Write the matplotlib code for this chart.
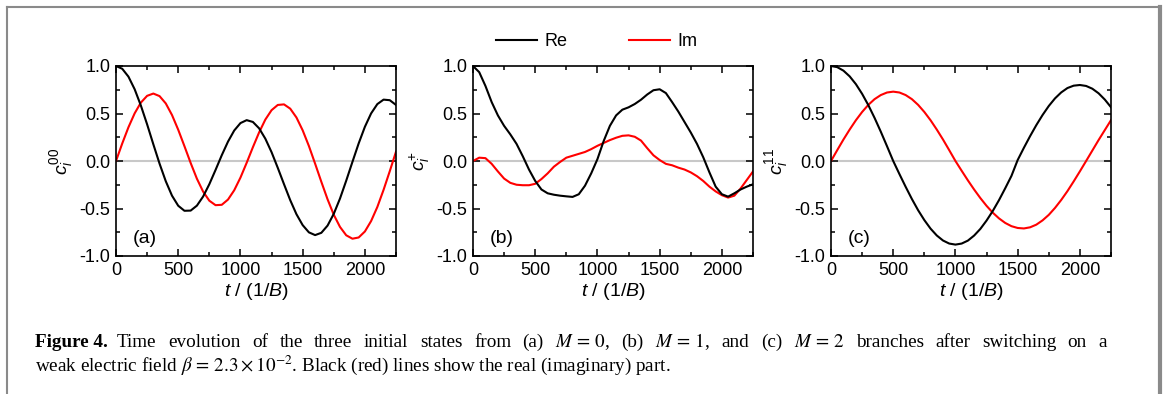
import numpy as np
import matplotlib
matplotlib.use('Agg')
import matplotlib.pyplot as plt
from matplotlib.lines import Line2D
from matplotlib.ticker import MultipleLocator

plt.rcParams['font.family'] = ['Liberation Sans', 'DejaVu Sans']
plt.rcParams['mathtext.fontset'] = 'custom'
plt.rcParams['mathtext.rm'] = 'Liberation Sans'
plt.rcParams['mathtext.it'] = 'Liberation Sans:italic'

# --- data (t in units of 1/B, step 50)
t = np.arange(0, 2251, 50)

re_a = [1.00, 0.971, 0.888, 0.755, 0.583, 0.386, 0.176, -0.028, -0.213, -0.365, -0.471, -0.524,
        -0.522, -0.470, -0.374, -0.244, -0.094, 0.061, 0.204, 0.321, 0.399, 0.430,
        0.411, 0.344, 0.235, 0.093, -0.072, -0.244, -0.412, -0.560, -0.675, -0.751, -0.780,
        -0.756, -0.680, -0.556, -0.395, -0.207, -0.009, 0.185, 0.360, 0.501, 0.599, 0.646,
        0.640, 0.590]
im_a = [0.0, 0.184, 0.355, 0.502, 0.615, 0.686, 0.710, 0.683, 0.606, 0.484, 0.329, 0.156,
        -0.021, -0.186, -0.322, -0.418, -0.465, -0.461, -0.406, -0.308, -0.175, -0.019,
        0.145, 0.301, 0.436, 0.535, 0.590, 0.596, 0.551, 0.458, 0.323, 0.158, -0.028,
        -0.219, -0.403, -0.566, -0.694, -0.782, -0.818, -0.805, -0.742, -0.632, -0.484,
        -0.304, -0.107, 0.098]

re_b = [1.00, 0.935, 0.79, 0.62, 0.48, 0.37, 0.28, 0.18, 0.05, -0.09, -0.21, -0.30, -0.34,
        -0.355, -0.365, -0.372, -0.378, -0.35, -0.26, -0.13, 0.02, 0.21, 0.37, 0.48, 0.54,
        0.565, 0.60, 0.645, 0.70, 0.745, 0.755, 0.715, 0.62, 0.52, 0.41, 0.30, 0.18, 0.04,
        -0.12, -0.27, -0.35, -0.375, -0.34, -0.30, -0.27, -0.245]
im_b = [0.0, 0.035, 0.03, -0.03, -0.11, -0.185, -0.23, -0.25, -0.255, -0.255, -0.24, -0.19,
        -0.13, -0.06, -0.01, 0.035, 0.055, 0.075, 0.095, 0.125, 0.16, 0.19, 0.22, 0.245,
        0.265, 0.27, 0.255, 0.215, 0.135, 0.06, 0.01, -0.03, -0.045, -0.07, -0.09, -0.12,
        -0.16, -0.21, -0.27, -0.32, -0.36, -0.385, -0.365, -0.29, -0.20, -0.11]

re_c = [1.0, 0.988, 0.951, 0.891, 0.809, 0.707, 0.588, 0.454, 0.309, 0.156, 0.0,
        -0.138, -0.272, -0.400, -0.518, -0.622, -0.712, -0.784, -0.837, -0.869, -0.88,
        -0.869, -0.838, -0.785, -0.715, -0.627, -0.526, -0.412, -0.287, -0.157, 0.01,
        0.139, 0.262, 0.378, 0.484, 0.579, 0.659, 0.722, 0.768, 0.793, 0.80,
        0.790, 0.761, 0.713, 0.647, 0.566]
im_c = [0.0, 0.114, 0.226, 0.331, 0.429, 0.516, 0.591, 0.651, 0.694, 0.721, 0.73,
        0.721, 0.694, 0.651, 0.591, 0.516, 0.429, 0.331, 0.226, 0.114, 0.0,
        -0.103, -0.204, -0.300, -0.390, -0.472, -0.544, -0.604, -0.652, -0.686, -0.705,
        -0.71, -0.698, -0.670, -0.625, -0.567, -0.494, -0.410, -0.317, -0.215, -0.109,
        0.0, 0.11, 0.22, 0.325, 0.43]

panels = [(re_a, im_a, r'$c_i^{00}$', '(a)'),
          (re_b, im_b, r'$c_i^{+}$', '(b)'),
          (re_c, im_c, r'$c_i^{11}$', '(c)')]

W, H = 1163, 394
fig = plt.figure(figsize=(W / 100, H / 100), dpi=100)

lefts = [116, 473, 831]
for (re, im, ylab, tag), lx in zip(panels, lefts):
    ax = fig.add_axes([lx / W, (H - 256) / H, 280 / W, 190 / H])
    ax.axhline(0, color='#c8c8c8', lw=1.5, zorder=1)
    ax.plot(t, re, color='black', lw=1.5, zorder=3)
    ax.plot(t, im, color='#ff0000', lw=1.5, zorder=2)
    ax.set_xlim(0, 2250)
    ax.set_ylim(-1, 1)
    ax.xaxis.set_major_locator(MultipleLocator(500))
    ax.xaxis.set_minor_locator(MultipleLocator(250))
    ax.yaxis.set_major_locator(MultipleLocator(0.5))
    ax.yaxis.set_minor_locator(MultipleLocator(0.25))
    ax.yaxis.set_major_formatter(plt.FuncFormatter(lambda v, p: '%.1f' % v))
    ax.tick_params(which='both', direction='in', top=True, right=True, width=1.1,
                   labelsize=13)
    ax.tick_params(which='major', length=5, pad=4)
    ax.tick_params(which='minor', length=3)
    for s in ax.spines.values():
        s.set_linewidth(1.2)
    ax.set_xlabel(r'$t$ / (1/$B$)', fontsize=14, labelpad=2)
    ax.set_ylabel(ylab, fontsize=14, labelpad=3)
    ax.text(0.06, 0.09, tag, transform=ax.transAxes, fontsize=14, va='center')

handles = [Line2D([], [], color='black', lw=1.5), Line2D([], [], color='#ff0000', lw=1.5)]
fig.legend(handles, ['Re', 'Im'], loc='center', bbox_to_anchor=(0.513, 1 - 42 / H),
           ncol=2, frameon=False, fontsize=13, handlelength=2.3, columnspacing=3.4,
           handletextpad=0.4)

# caption (first line justified to the full width)
cap_kw = dict(family='Liberation Serif', fontsize=13.8, math_fontfamily='stix', va='baseline')
t1 = fig.text(35 / W, 1 - 347 / H, 'Figure 4.', fontweight='bold', **cap_kw)
fig.canvas.draw()
renderer = fig.canvas.get_renderer()
x0 = t1.get_window_extent(renderer).x1 + 9
words = ['Time', 'evolution', 'of', 'the', 'three', 'initial', 'states', 'from', '(a)',
         r'$M\,=\,0$,', '(b)', r'$M\,=\,1$,', 'and', '(c)', r'$M\,=\,2$', 'branches', 'after',
         'switching', 'on', 'a']
objs = [fig.text(0, 1 - 347 / H, w, **cap_kw) for w in words]
widths = [o.get_window_extent(renderer).width for o in objs]
gap = (1107 - x0 - sum(widths)) / (len(words) - 1)
x = x0
for o, w in zip(objs, widths):
    o.set_x(x / W)
    x += w + gap
fig.text(35 / W, 1 - 371 / H,
         r'weak electric field $\beta\,=\,2.3 \times 10^{-2}$. Black (red) lines show the real (imaginary) part.',
         **cap_kw)

# page frame
gray = '#8a8a8a'
fig.add_artist(Line2D([7 / W, 7 / W], [0, 1 - 7 / H], color=gray, lw=1.5))
fig.add_artist(Line2D([7 / W, 1160 / W], [1 - 7 / H, 1 - 7 / H], color=gray, lw=1.5))
fig.add_artist(Line2D([1160 / W, 1160 / W], [0, 1 - 7 / H], color=gray, lw=3))

fig.savefig('out.png', dpi=100)
